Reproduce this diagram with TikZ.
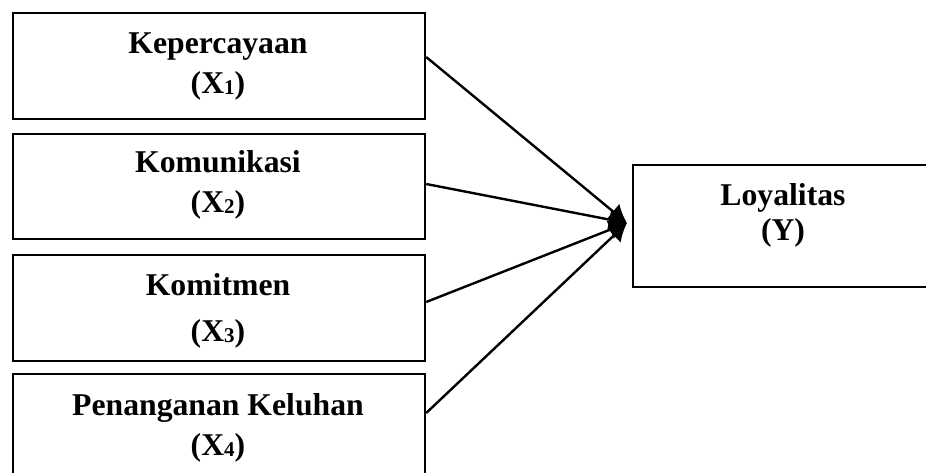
\documentclass[tikz,border=0pt]{standalone}
\usepackage{fontspec}
\setmainfont{Liberation Serif}
\usetikzlibrary{arrows.meta}
\newcommand{\subdig}[1]{\raisebox{-1pt}{\fontsize{21}{21}\selectfont #1}}
\tikzset{
  varbox/.style={draw=black, line width=2.2pt, rectangle, inner sep=0pt, anchor=north west},
  lbl/.style={anchor=base, inner sep=0pt, font=\fontsize{31.7}{38}\selectfont\bfseries},
  conn/.style={line width=2.4pt, -{Latex[length=18pt,width=20pt]}}
}
\begin{document}
\begin{tikzpicture}[x=1pt,y=-1pt]
\useasboundingbox (0,0) rectangle (926,472);
\clip (0,0) rectangle (926,472);
% left boxes
\node[varbox, minimum width=412pt, minimum height=106pt] (b1) at (12,12) {};
\node[varbox, minimum width=412pt, minimum height=105pt] (b2) at (12,133) {};
\node[varbox, minimum width=412pt, minimum height=106pt] (b3) at (12,254) {};
\node[varbox, minimum width=412pt, minimum height=110pt] (b4) at (12,373) {};
% right box
\node[varbox, minimum width=310pt, minimum height=122pt] (y) at (632,164) {};
% labels
\node[lbl] (t1a) at (218,53) {Kepercayaan};
\node[lbl] (t1b) at (218,93) {(X\subdig{1})};
\node[lbl] (t2a) at (218,172) {Komunikasi};
\node[lbl] (t2b) at (218,212) {(X\subdig{2})};
\node[lbl] (t3a) at (218,295) {Komitmen};
\node[lbl] (t3b) at (218,341) {(X\subdig{3})};
\node[lbl] (t4a) at (218,415) {Penanganan Keluhan};
\node[lbl] (t4b) at (218,455) {(X\subdig{4})};
\node[lbl] (tya) at (783,205) {Loyalitas};
\node[lbl] (tyb) at (783,240) {(Y)};
% connectors
\coordinate (tip) at (627,223);
\coordinate (s1) at (b1.east |- 0,57);
\coordinate (s2) at (b2.east |- 0,184);
\coordinate (s3) at (b3.east |- 0,302);
\coordinate (s4) at (b4.east |- 0,413);
\draw[conn] (s1) -- (tip);
\draw[conn] (s2) -- (tip);
\draw[conn] (s3) -- (tip);
\draw[conn] (s4) -- (tip);
\end{tikzpicture}
\end{document}
